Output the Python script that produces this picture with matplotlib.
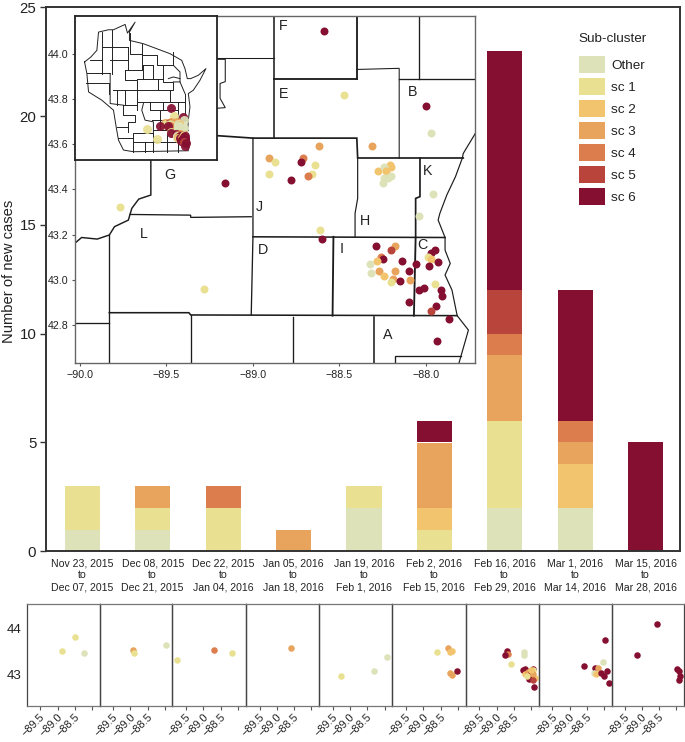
import numpy as np
import matplotlib
matplotlib.use("Agg")
import matplotlib.pyplot as plt
from matplotlib.patches import Patch
from matplotlib.transforms import ScaledTranslation

plt.rcParams['font.family'] = ['Liberation Sans', 'DejaVu Sans']
TXT = '#222222'
W, H = 685, 742

# ---------- bars ----------
periods = ["Nov 23, 2015\nto\nDec 07, 2015", "Dec 08, 2015\nto\nDec 21, 2015", "Dec 22, 2015\nto\nJan 04, 2016",
           "Jan 05, 2016\nto\nJan 18, 2016", "Jan 19, 2016\nto\nFeb 1, 2016", "Feb 2, 2016\nto\nFeb 15, 2016",
           "Feb 16, 2016\nto\nFeb 29, 2016", "Mar 1, 2016\nto\nMar 14, 2016", "Mar 15, 2016\nto\nMar 28, 2016"]
clusters = ["Other", "sc 1", "sc 2", "sc 3", "sc 4", "sc 5", "sc 6"]
colors = ["#DDE2B8", "#E9E092", "#F3C46E", "#E8A45C", "#DB7D4C", "#B8443C", "#850F30"]
other = [1, 1, 0, 0, 2, 0, 2, 2, 0]
sc1 = [2, 1, 2, 0, 1, 1, 4, 0, 0]
sc2 = [0, 0, 0, 0, 0, 1, 0, 2, 0]
sc3 = [0, 1, 0, 1, 0, 3, 3, 1, 0]
sc4 = [0, 0, 1, 0, 0, 0, 1, 1, 0]
sc5 = [0, 0, 0, 0, 0, 0, 2, 0, 0]
sc6 = [0, 0, 0, 0, 0, 1, 11, 6, 5]
stack = [other, sc1, sc2, sc3, sc4, sc5, sc6]

# ---------- case locations on the main map: lon, lat, sub-cluster index ----------
map_lon = [-88.59, -88.475, -88.00, -87.97, -88.31, -88.62, -88.91, -88.87, -88.71, -88.72, -88.64, -88.91, -88.66,
           -88.68, -88.78, -89.16, -89.77, -88.61, -88.60, -89.28,
           -88.21, -88.20, -88.275, -88.24, -88.23, -88.20, -88.22, -88.24, -88.25, -87.96, -88.04,
           -88.29, -88.18, -88.20, -88.26, -88.25, -88.285, -88.325, -88.32, -88.27, -88.18, -88.14, -88.10, -88.06,
           -88.24, -88.19, -88.20, -88.15, -88.09, -87.97, -87.95, -87.99, -87.97, -87.98, -87.93, -87.95, -88.04,
           -88.01, -87.915, -87.905, -88.10, -87.94, -87.97, -87.865, -87.935]
map_lat = [44.10, 43.82, 43.77, 43.65, 43.59, 43.59, 43.54, 43.52, 43.54, 43.52, 43.51, 43.47, 43.47,
           43.46, 43.44, 43.43, 43.32, 43.22, 43.18, 42.96,
           43.51, 43.50, 43.48, 43.50, 43.48, 43.46, 43.45, 43.45, 43.43, 43.38, 43.28,
           43.15, 43.15, 43.13, 43.10, 43.09, 43.085, 43.07, 43.03, 43.04, 43.04, 43.085, 43.04, 43.07,
           43.015, 43.005, 42.99, 42.995, 43.00, 43.12, 43.13, 43.10, 43.09, 43.06, 43.08, 42.98, 42.955,
           42.965, 42.955, 42.93, 42.90, 42.885, 42.86, 42.825, 42.73]
map_sc = [6, 1, 6, 0, 3, 3, 3, 1, 4, 6, 1, 1, 1,
          4, 6, 6, 1, 1, 6, 1,
          2, 2, 2, 0, 2, 0, 0, 0, 0, 0, 0,
          6, 3, 5, 4, 6, 2, 0, 0, 3, 3, 6, 6, 6,
          2, 3, 1, 6, 3, 6, 6, 1, 2, 6, 6, 1, 6,
          6, 6, 6, 6, 6, 5, 6, 6]

# ---------- county lines of the main map (lon, lat) ----------
county_lines = [
    ([-88.88, -88.88], [44.169, 43.627]),
    ([-88.40, -88.40], [44.169, 43.889]),
    ([-88.88, -88.40], [43.889, 43.889]),
    ([-88.40, -88.155, -88.155], [43.931, 43.936, 43.539]),
    ([-88.155, -87.715], [43.889, 43.889]),
    ([-88.04, -88.04], [44.169, 43.889]),
    ([-89.21, -88.88], [43.98, 43.98]),
    ([-89.21, -89.16, -89.16, -89.19, -89.19, -89.16, -89.21],
     [43.976, 43.976, 43.877, 43.869, 43.803, 43.762, 43.759]),
    ([-89.21, -89.00, -88.40, -88.395, -87.785], [43.638, 43.627, 43.627, 43.539, 43.539]),
    ([-89.00, -89.00, -89.01], [43.627, 43.19, 42.844]),
    ([-88.395, -88.395, -88.41, -88.41], [43.539, 43.36, 43.294, 43.19]),
    ([-89.00, -87.89], [43.19, 43.187]),
    ([-89.59, -89.59, -89.66, -89.70, -89.72, -89.80, -89.83, -89.90, -89.99, -90.03],
     [43.53, 43.375, 43.357, 43.316, 43.264, 43.235, 43.198, 43.18, 43.187, 43.161]),
    ([-89.71, -89.36, -89.36, -89.01], [43.289, 43.286, 43.276, 43.279]),
    ([-89.83, -89.83], [43.198, 42.63]),
    ([-89.83, -89.37, -89.36, -87.82], [42.854, 42.854, 42.844, 42.841]),
    ([-90.03, -89.83], [42.81, 42.81]),
    ([-89.36, -89.36], [42.844, 42.63]),
    ([-88.77, -88.77], [42.836, 42.63]),
    ([-88.30, -88.30], [42.836, 42.63]),
    ([-88.535, -88.54], [43.19, 42.841]),
    ([-88.06, -88.07], [43.187, 42.841]),
    ([-88.035, -88.035, -88.06, -88.06], [43.539, 43.368, 43.36, 43.19]),
    ([-87.715, -87.785, -87.79, -87.83, -87.88, -87.92, -87.93, -87.89, -87.89, -87.86, -87.89, -87.85, -87.82,
      -87.755, -87.81],
     [43.648, 43.559, 43.539, 43.456, 43.375, 43.294, 43.264, 43.187, 43.131, 43.072, 43.021, 42.954, 42.841,
      42.777, 42.63]),
    ([-88.18, -88.18, -87.80], [42.63, 42.662, 42.662]),
]
county_lw = [1.2, 1.4, 1.4, 0.8, 1.0, 1.0, 0.8, 0.8, 1.3, 1.0, 0.9, 1.2, 1.1, 1.0, 1.0, 1.2, 1.0, 1.0, 1.0,
             1.2, 1.4, 1.4, 1.3, 0.9, 1.0]

letters = ["F", "E", "B", "G", "K", "J", "H", "L", "D", "I", "C", "A"]
letter_lon = [-88.824, -88.82, -88.08, -89.48, -87.99, -88.966, -88.35, -89.63, -88.94, -88.49, -88.02, -88.22]
letter_lat = [44.125, 43.824, 43.831, 43.463, 43.481, 43.323, 43.261, 43.201, 43.131, 43.134, 43.152, 42.755]

# ---------- Wisconsin outline and county grid, digitised in map units ----------
wi_outline = [(43, 155), (62, 140), (80, 120), (85, 65), (115, 58), (130, 58), (165, 42), (172, 68), (195, 35),
              (178, 65), (178, 90), (220, 100), (260, 115), (300, 130), (335, 150), (345, 175), (352, 205),
              (362, 205), (385, 195), (408, 175), (390, 210), (370, 240), (355, 250), (360, 290), (355, 330),
              (352, 380), (355, 422), (190, 425), (160, 420), (145, 390), (138, 350), (130, 300), (95, 270),
              (55, 245), (50, 190), (43, 155)]
wi_counties = [
    [(95, 110), (175, 110)], [(60, 150), (95, 150)], [(50, 188), (120, 188)], [(48, 218), (115, 218), (115, 250)],
    [(120, 150), (175, 150)], [(165, 180), (215, 180), (215, 130), (180, 130), (180, 68)],
    [(175, 110), (175, 180)], [(125, 60), (125, 190)], [(95, 65), (95, 190)], [(120, 190), (120, 280), (160, 285)],
    [(165, 180), (165, 210), (200, 210), (200, 240), (165, 240), (165, 285)], [(130, 240), (165, 240)],
    [(215, 135), (260, 135), (260, 165), (310, 165), (310, 125)], [(220, 165), (220, 205)], [(250, 165), (250, 205)],
    [(220, 165), (250, 165)], [(200, 205), (265, 205), (265, 240), (200, 240)],
    [(265, 205), (280, 205), (280, 215), (310, 215), (310, 240), (265, 240)],
    [(310, 165), (330, 185), (330, 215), (310, 215)], [(330, 215), (345, 250)], [(200, 240), (200, 300)],
    [(160, 285), (200, 285)], [(160, 285), (160, 315), (195, 315), (195, 335), (175, 335), (175, 365)],
    [(140, 350), (175, 350)], [(200, 275), (345, 275)], [(240, 275), (240, 300)], [(280, 275), (280, 300)],
    [(240, 300), (325, 300)], [(325, 275), (325, 330)], [(220, 280), (215, 300), (225, 330), (250, 335), (250, 370)],
    [(245, 330), (355, 330)], [(270, 300), (270, 360)], [(250, 370), (190, 370), (190, 425)], [(225, 395), (225, 425)],
    [(250, 370), (250, 425)], [(190, 395), (290, 395), (290, 425)], [(290, 360), (290, 425)], [(325, 360), (355, 360)],
    [(325, 360), (325, 425)], [(250, 360), (325, 360)], [(290, 395), (355, 395)], [(145, 385), (190, 385)],
    [(217, 100), (217, 135)], [(280, 165), (280, 205)], [(295, 205), (310, 200), (330, 205)],
    [(140, 240), (140, 285)], [(300, 240), (300, 275)], [(345, 250), (345, 330)],
]

# ---------- small multiples: lon, lat, sub-cluster for each period ----------
panel_lon = [
    [-88.88, -88.48, -88.22],
    [-88.91, -88.90, -87.96],
    [-89.77, -88.69, -88.17],
    [-88.60],
    [-89.28, -88.31, -87.94],
    [-88.62, -88.28, -88.23, -88.16, -88.23, -88.16, -88.04],
    [-88.70, -88.67, -88.77, -88.21, -88.21, -88.59, -88.22, -88.16, -87.93, -87.95, -88.18, -88.08, -88.01,
     -88.07, -87.97, -87.87, -87.93, -87.94, -87.90, -88.13, -87.99],
    [-87.98, -88.03, -88.59, -88.27, -88.17, -88.30, -88.22, -88.09, -87.91, -87.99, -87.84],
    [-88.57, -89.16, -87.97, -87.91, -87.89, -87.93],
]
panel_lat = [
    [43.51, 43.81, 43.46],
    [43.53, 43.46, 43.64],
    [43.31, 43.53, 43.46],
    [43.58],
    [42.96, 43.07, 43.37],
    [43.49, 43.58, 43.48, 43.50, 43.04, 42.99, 43.07],
    [43.50, 43.45, 43.43, 43.49, 43.43, 43.22, 43.09, 43.11, 43.12, 43.09, 43.01, 43.06, 43.02,
     42.905, 42.93, 42.93, 43.01, 42.87, 42.73, 42.96, 43.10],
    [43.76, 43.26, 43.18, 43.14, 43.15, 43.04, 43.01, 43.04, 43.08, 42.96, 42.82],
    [44.09, 43.42, 43.11, 43.07, 42.96, 42.88],
]
panel_sc = [
    [1, 1, 0],
    [3, 1, 0],
    [1, 4, 1],
    [3],
    [1, 0, 0],
    [1, 3, 2, 2, 3, 3, 6],
    [6, 4, 6, 0, 0, 1, 6, 6, 6, 1, 2, 3, 5, 6, 6, 2, 3, 5, 6, 1, 2],
    [6, 0, 6, 6, 3, 0, 2, 6, 6, 6, 6],
    [6, 6, 6, 6, 6, 6],
]


def rect(left, top, right, bottom):
    return [left / W, 1 - bottom / H, (right - left) / W, (bottom - top) / H]


fig = plt.figure(figsize=(W / 100, H / 100), dpi=100, facecolor='white')

# ---------- stacked bars ----------
ax = fig.add_axes(rect(46, 7.3, 680, 551.3))
x = np.arange(len(periods))
bottom = np.zeros(len(periods))
for vals, c in zip(stack, colors):
    ax.bar(x, vals, width=0.5, bottom=bottom, color=c, linewidth=0)
    bottom += np.array(vals)
ax.set_xlim(-0.516, 8.49)
ax.set_ylim(0, 25)
ax.set_xticks(x)
ax.set_xticklabels(periods, fontsize=7.6, color=TXT, linespacing=1.28)
ax.tick_params(axis='x', length=0, pad=5)
ax.set_yticks([0, 5, 10, 15, 20, 25])
ax.tick_params(axis='y', labelsize=10.8, labelcolor=TXT, length=4, width=1, color='#333333', pad=3)
ax.set_ylabel("Number of new cases", fontsize=10.6, color=TXT, labelpad=0)
ax.yaxis.set_label_coords(-29.5 / 634, 0.515)
for s in ax.spines.values():
    s.set_color('#333333')
    s.set_linewidth(1.4)
handles = [Patch(facecolor=c, edgecolor='none', label=l) for c, l in zip(colors, clusters)]
leg = ax.legend(handles=handles, title="Sub-cluster", fontsize=9.7, title_fontsize=9.7, frameon=False,
                loc='upper left', bbox_to_anchor=(578.5 / W, 1 - 32.5 / H), bbox_transform=fig.transFigure,
                borderpad=0, borderaxespad=0, handlelength=2.0, handleheight=1.565, labelspacing=0.38,
                handletextpad=0.42, labelcolor=TXT)
leg._legend_box.align = 'left'
leg._legend_box.sep = 8
leg.get_title().set_color(TXT)

# ---------- main map ----------
m = fig.add_axes(rect(74.7, 15.7, 475, 363.3))
for (lx, ly), lw in zip(county_lines, county_lw):
    m.plot(lx, ly, color='#1c1c1c', lw=lw * 0.95, solid_joinstyle='miter', zorder=2)
for a, b, s in zip(map_lon, map_lat, map_sc):
    m.scatter(a, b, s=33, color=colors[s], linewidths=0, zorder=3)
for t, a, b in zip(letters, letter_lon, letter_lat):
    m.text(a, b, t, fontsize=10.3, color=TXT, ha='center', va='center', zorder=4)
m.set_xlim(-90.03, -87.717)
m.set_ylim(42.63, 44.169)
m.set_xticks([-90.0, -89.5, -89.0, -88.5, -88.0])
m.set_yticks([42.8, 43.0, 43.2, 43.4, 43.6, 43.8, 44.0])
m.xaxis.set_major_formatter(lambda v, p: f"\u2212{abs(v):.1f}")
m.tick_params(labelsize=7.7, labelcolor=TXT, length=2.5, width=0.8, color='#555555', pad=2)
for s in m.spines.values():
    s.set_color('#666666')
    s.set_linewidth(1.0)

# ---------- Wisconsin inset ----------
ins = fig.add_axes(rect(75, 16, 217, 160))
ins.set_zorder(5)


def wi_lon(u):
    return -88 + (np.asarray(u, float) - 340) / 61


def wi_lat(u):
    return 44.10 + (293 - np.asarray(u, float)) / 83


for seg in wi_counties + [wi_outline]:
    pts = np.array(seg)
    ins.plot(wi_lon(pts[:, 0]), wi_lat(pts[:, 1]), color='#222222', lw=0.7, zorder=2)
for a, b, s in zip(map_lon, map_lat, map_sc):
    ins.scatter(a, b, s=42, color=colors[s], linewidths=0, alpha=0.92, zorder=3)
ins.set_xlim(-93.34, -86.34)
ins.set_ylim(42.21, 47.43)
ins.set_xticks([])
ins.set_yticks([])
for s in ins.spines.values():
    s.set_color('#222222')
    s.set_linewidth(1.3)

# ---------- small multiples ----------
edges = [26.7, 99.5, 172.4, 245.7, 319.2, 392.3, 465.7, 538.7, 611.7, 684.0]
for i in range(9):
    p = fig.add_axes(rect(edges[i], 604.3, edges[i + 1], 706))
    p.patch.set_alpha(0)
    for a, b, s in zip(panel_lon[i], panel_lat[i], panel_sc[i]):
        p.scatter(a, b, s=22, color=colors[s], linewidths=0, zorder=3, clip_on=True)
    p.set_xlim(-89.9, -87.775)
    p.set_ylim(42.31, 44.53)
    p.set_xticks([-89.5, -89.0, -88.5, -88.0])
    p.set_xticklabels(["\u221289.5", "\u221289.0", "\u221288.5", ""], rotation=45, ha='right', va='center',
                      rotation_mode='anchor', fontsize=7.8, color=TXT)
    p.tick_params(axis='x', length=3, width=0.8, color='#555555', pad=3.5)
    off = ScaledTranslation(3 / 100, 0, fig.dpi_scale_trans)
    for lab in p.get_xticklabels():
        lab.set_transform(lab.get_transform() + off)
    if i == 0:
        p.set_yticks([43, 44])
        p.tick_params(axis='y', length=0, labelsize=9.6, labelcolor=TXT, pad=4)
    else:
        p.set_yticks([])
    for name, s in p.spines.items():
        s.set_color('#777777' if name in ('top', 'bottom') else '#444444')
        s.set_linewidth(0.9)

fig.savefig("out.png", dpi=100)
